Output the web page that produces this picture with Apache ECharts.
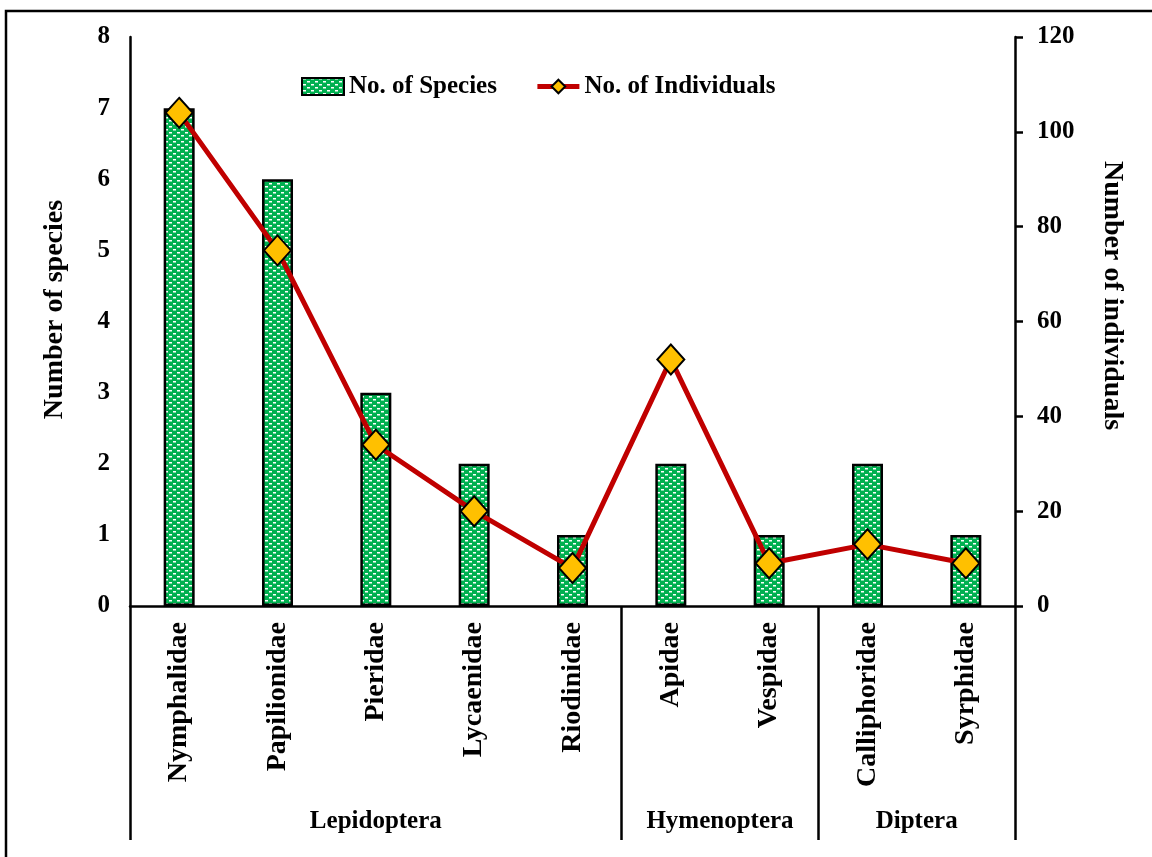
<!DOCTYPE html>
<html>
<head>
<meta charset="utf-8">
<script src="https://cdn.jsdelivr.net/npm/echarts@6/dist/echarts.min.js"></script>
<style>
  html, body { margin: 0; padding: 0; background: #fff; }
  #main { width: 1152px; height: 857px; }
</style>
</head>
<body>
<div id="main"></div>
<script>
// data
var families = ['Nymphalidae', 'Papilionidae', 'Pieridae', 'Lycaenidae', 'Riodinidae',
                'Apidae', 'Vespidae', 'Calliphoridae', 'Syrphidae'];
var speciesCount = [7, 6, 3, 2, 1, 2, 1, 2, 1];
var individualCount = [104, 75, 34, 20, 8, 52, 9, 13, 9];
var orderNames = ['Lepidoptera', 'Hymenoptera', 'Diptera'];
var orderSizes = [5, 2, 2];
var speciesTicks = [0, 1, 2, 3, 4, 5, 6, 7, 8];
var individualTicks = [0, 20, 40, 60, 80, 100, 120];

var FONT = "'Times New Roman', 'Liberation Serif', serif";

// group boundaries and centres on a 0..9 scale
var bounds = [0];
orderSizes.forEach(function (n) { bounds.push(bounds[bounds.length - 1] + n); });
var centres = orderSizes.map(function (n, i) { return bounds[i] + n / 2; });

// green + white dotted fill like excel pattern
function makePattern() {
  var c = document.createElement('canvas');
  c.width = 8; c.height = 6;
  var ctx = c.getContext('2d');
  ctx.fillStyle = '#00B050';
  ctx.fillRect(0, 0, 8, 6);
  ctx.fillStyle = '#ffffff';
  ctx.fillRect(1, 0, 3, 1.5);
  ctx.fillRect(5, 3, 3, 1.5);
  return c;
}
var pattern = { image: makePattern(), repeat: 'repeat' };

var chart = echarts.init(document.getElementById('main'));
var option = {
  animation: false,
  backgroundColor: '#fff',
  textStyle: { fontFamily: FONT },
  grid: { left: 130, right: 137, top: 37, bottom: 251 },
  legend: {
    left: 296, top: 69,
    itemWidth: 42, itemHeight: 17, itemGap: 38,
    textStyle: { fontFamily: FONT, fontWeight: 'bold', fontSize: 25, color: '#000' },
    data: [
      { name: 'No. of Species', icon: 'rect' },
      { name: 'No. of Individuals', lineStyle: { width: 5, color: '#C00000' } }
    ]
  },
  xAxis: [{
    type: 'category',
    data: families,
    axisLine: { lineStyle: { color: '#000', width: 2.5 } },
    axisTick: { show: false },
    axisLabel: {
      rotate: 90, margin: 16, interval: 0,
      fontFamily: FONT, fontWeight: 'bold', fontSize: 28, color: '#000'
    }
  }, {
    // order grouping row under the families
    type: 'value', position: 'bottom', min: 0, max: families.length,
    axisLine: { show: false },
    splitLine: { show: false },
    axisTick: {
      show: true, length: 234, customValues: bounds,
      lineStyle: { color: '#000', width: 2.5 }
    },
    axisLabel: {
      customValues: centres, margin: 203,
      fontFamily: FONT, fontWeight: 'bold', fontSize: 25, color: '#000',
      formatter: function (v) { return orderNames[centres.indexOf(v)]; }
    }
  }],
  yAxis: [{
    type: 'value', min: 0, max: speciesTicks[speciesTicks.length - 1], interval: 1,
    name: 'Number of species', nameLocation: 'middle', nameRotate: 90, nameGap: 61,
    nameTextStyle: { fontFamily: FONT, fontWeight: 'bold', fontSize: 28, color: '#000', padding: [0, 0, 0, 24] },
    axisLine: { show: true, lineStyle: { color: '#000', width: 2.5 } },
    axisTick: { show: false },
    splitLine: { show: false },
    axisLabel: { margin: 20, fontFamily: FONT, fontWeight: 'bold', fontSize: 25, color: '#000' }
  }, {
    type: 'value', min: 0, max: individualTicks[individualTicks.length - 1], interval: 20,
    position: 'right',
    name: 'Number of individuals', nameLocation: 'middle', nameRotate: -90, nameGap: 83,
    nameTextStyle: { fontFamily: FONT, fontWeight: 'bold', fontSize: 28, color: '#000', padding: [0, 52, 0, 0] },
    axisLine: { show: true, lineStyle: { color: '#000', width: 2.5 } },
    axisTick: { show: true, length: 8, lineStyle: { color: '#000', width: 2.5 } },
    splitLine: { show: false },
    axisLabel: { margin: 22, fontFamily: FONT, fontWeight: 'bold', fontSize: 25, color: '#000' }
  }],
  series: [{
    name: 'No. of Species',
    type: 'bar',
    data: speciesCount,
    barWidth: 31,
    itemStyle: { color: pattern, borderColor: '#000', borderWidth: 2.5 }
  }, {
    name: 'No. of Individuals',
    type: 'line',
    yAxisIndex: 1,
    data: individualCount,
    symbol: 'diamond',
    symbolSize: [27, 30],
    z: 5,
    lineStyle: { color: '#C00000', width: 5 },
    itemStyle: { color: '#FFC000', borderColor: '#000', borderWidth: 2 }
  }],
  graphic: [{
    type: 'rect',
    shape: { x: 6, y: 11, width: 1300, height: 1000 },
    style: { fill: 'none', stroke: '#000', lineWidth: 2.5 },
    silent: true
  }]
};
chart.setOption(option);
</script>
</body>
</html>
